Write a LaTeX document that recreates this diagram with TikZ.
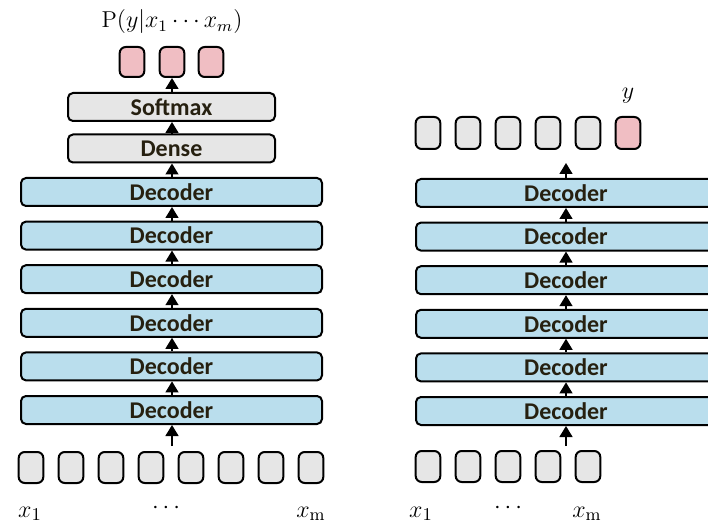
\documentclass[tikz,border=0pt]{standalone}
\usepackage{fontspec}
\setsansfont{Carlito}
\usetikzlibrary{arrows.meta,positioning}
\definecolor{decblue}{RGB}{186,222,237}
\definecolor{boxgrey}{RGB}{230,230,230}
\definecolor{outpink}{RGB}{240,190,195}
\definecolor{labeltext}{RGB}{38,32,16}

\tikzset{
  layerbox/.style={draw=black, line width=1pt, rounded corners=2.5pt,
    minimum height=14pt, inner sep=0pt, text=labeltext,
    font=\sffamily\bfseries\fontsize{12}{14}\selectfont},
  decoder/.style={layerbox, fill=decblue, minimum width=150.5pt},
  headbox/.style={layerbox, fill=boxgrey, minimum width=103.5pt},
  token/.style={draw=black, line width=1pt, rounded corners=3pt,
    fill=boxgrey, minimum width=12.3pt, minimum height=15.5pt, inner sep=0pt},
  outtoken/.style={token, fill=outpink},
  flow/.style={-{Triangle[width=6.5pt,length=5.5pt]}, line width=0.7pt},
  mathlabel/.style={inner sep=0pt, font=\fontsize{12.5}{14}\selectfont}
}

\begin{document}
\begin{tikzpicture}[x=0.5pt, y=-0.5pt]
    \useasboundingbox (0,0) rectangle (708,524);
    \clip (0,0) rectangle (708,524);

    % Left: decoder stack with dense and softmax head
    \foreach \i in {1,...,6}
      \node[decoder] (ldec\i) at (171.5,{410-(\i-1)*43.6}) {Decoder};
    \node[headbox] (dense) at (171.5,148.5) {Dense};
    \node[headbox] (softmax) at (171.5,107) {Softmax};

    % Left: output distribution
    \node[outtoken, minimum height=15pt] (lout1) at (132,62) {};
    \node[outtoken, minimum height=15pt] (lout2) at (172,62) {};
    \node[outtoken, minimum height=15pt] (lout3) at (211,62) {};
    \node[mathlabel, font=\fontsize{11.5}{14}\selectfont] (prob) at (172,22) {$\mathrm{P}(y|x_1\cdots x_m)$};

    % Left: input tokens
    \foreach \i in {1,...,8}
      \node[token] (lin\i) at ({31+(\i-1)*40},467.5) {};
    \node[mathlabel] (lx1) at (30,514) {$x_1$};
    \node[mathlabel] (ldots) at (166,508) {$\cdots$};
    \node[mathlabel] (lxm) at (311,514) {$x_\mathrm{m}$};

    % Left: arrows
    \coordinate (lstart) at (172,446);
    \draw[flow] (lstart) -- (lstart |- ldec1.south);
    \foreach \i [evaluate=\i as \j using int(\i+1)] in {1,...,5}
      \draw[flow] (lstart |- ldec\i.north) -- (lstart |- ldec\j.south);
    \draw[flow] (lstart |- ldec6.north) -- (lstart |- dense.south);
    \draw[flow] (lstart |- dense.north) -- (lstart |- softmax.south);
    \draw[flow] (lstart |- softmax.north) -- (lout2.south);

    % Right: decoder stack, cut at the border
    \foreach \i in {1,...,6}
      \node[decoder, minimum width=150pt] (rdec\i) at (566,{411-(\i-1)*43.6}) {Decoder};

    % Right: shifted outputs, last one predicted
    \foreach \i in {1,...,5}
      \node[token, minimum height=16pt] (rout\i) at ({428+(\i-1)*40},133) {};
    \node[outtoken, minimum height=16pt] (rout6) at (628,133) {};
    \node[mathlabel] (ylab) at (628,96) {$y$};

    % Right: input tokens
    \foreach \i in {1,...,5}
      \node[token] (rin\i) at ({428+(\i-1)*40},466.5) {};
    \node[mathlabel] (rx1) at (421,514) {$x_1$};
    \node[mathlabel] (rdots) at (508,508) {$\cdots$};
    \node[mathlabel] (rxm) at (587,514) {$x_\mathrm{m}$};

    % Right: arrows
    \coordinate (rstart) at (566,446);
    \coordinate (rend) at (566,163);
    \draw[flow] (rstart) -- (rstart |- rdec1.south);
    \foreach \i [evaluate=\i as \j using int(\i+1)] in {1,...,5}
      \draw[flow] (rstart |- rdec\i.north) -- (rstart |- rdec\j.south);
    \draw[flow] (rstart |- rdec6.north) -- (rend);
\end{tikzpicture}
\end{document}
